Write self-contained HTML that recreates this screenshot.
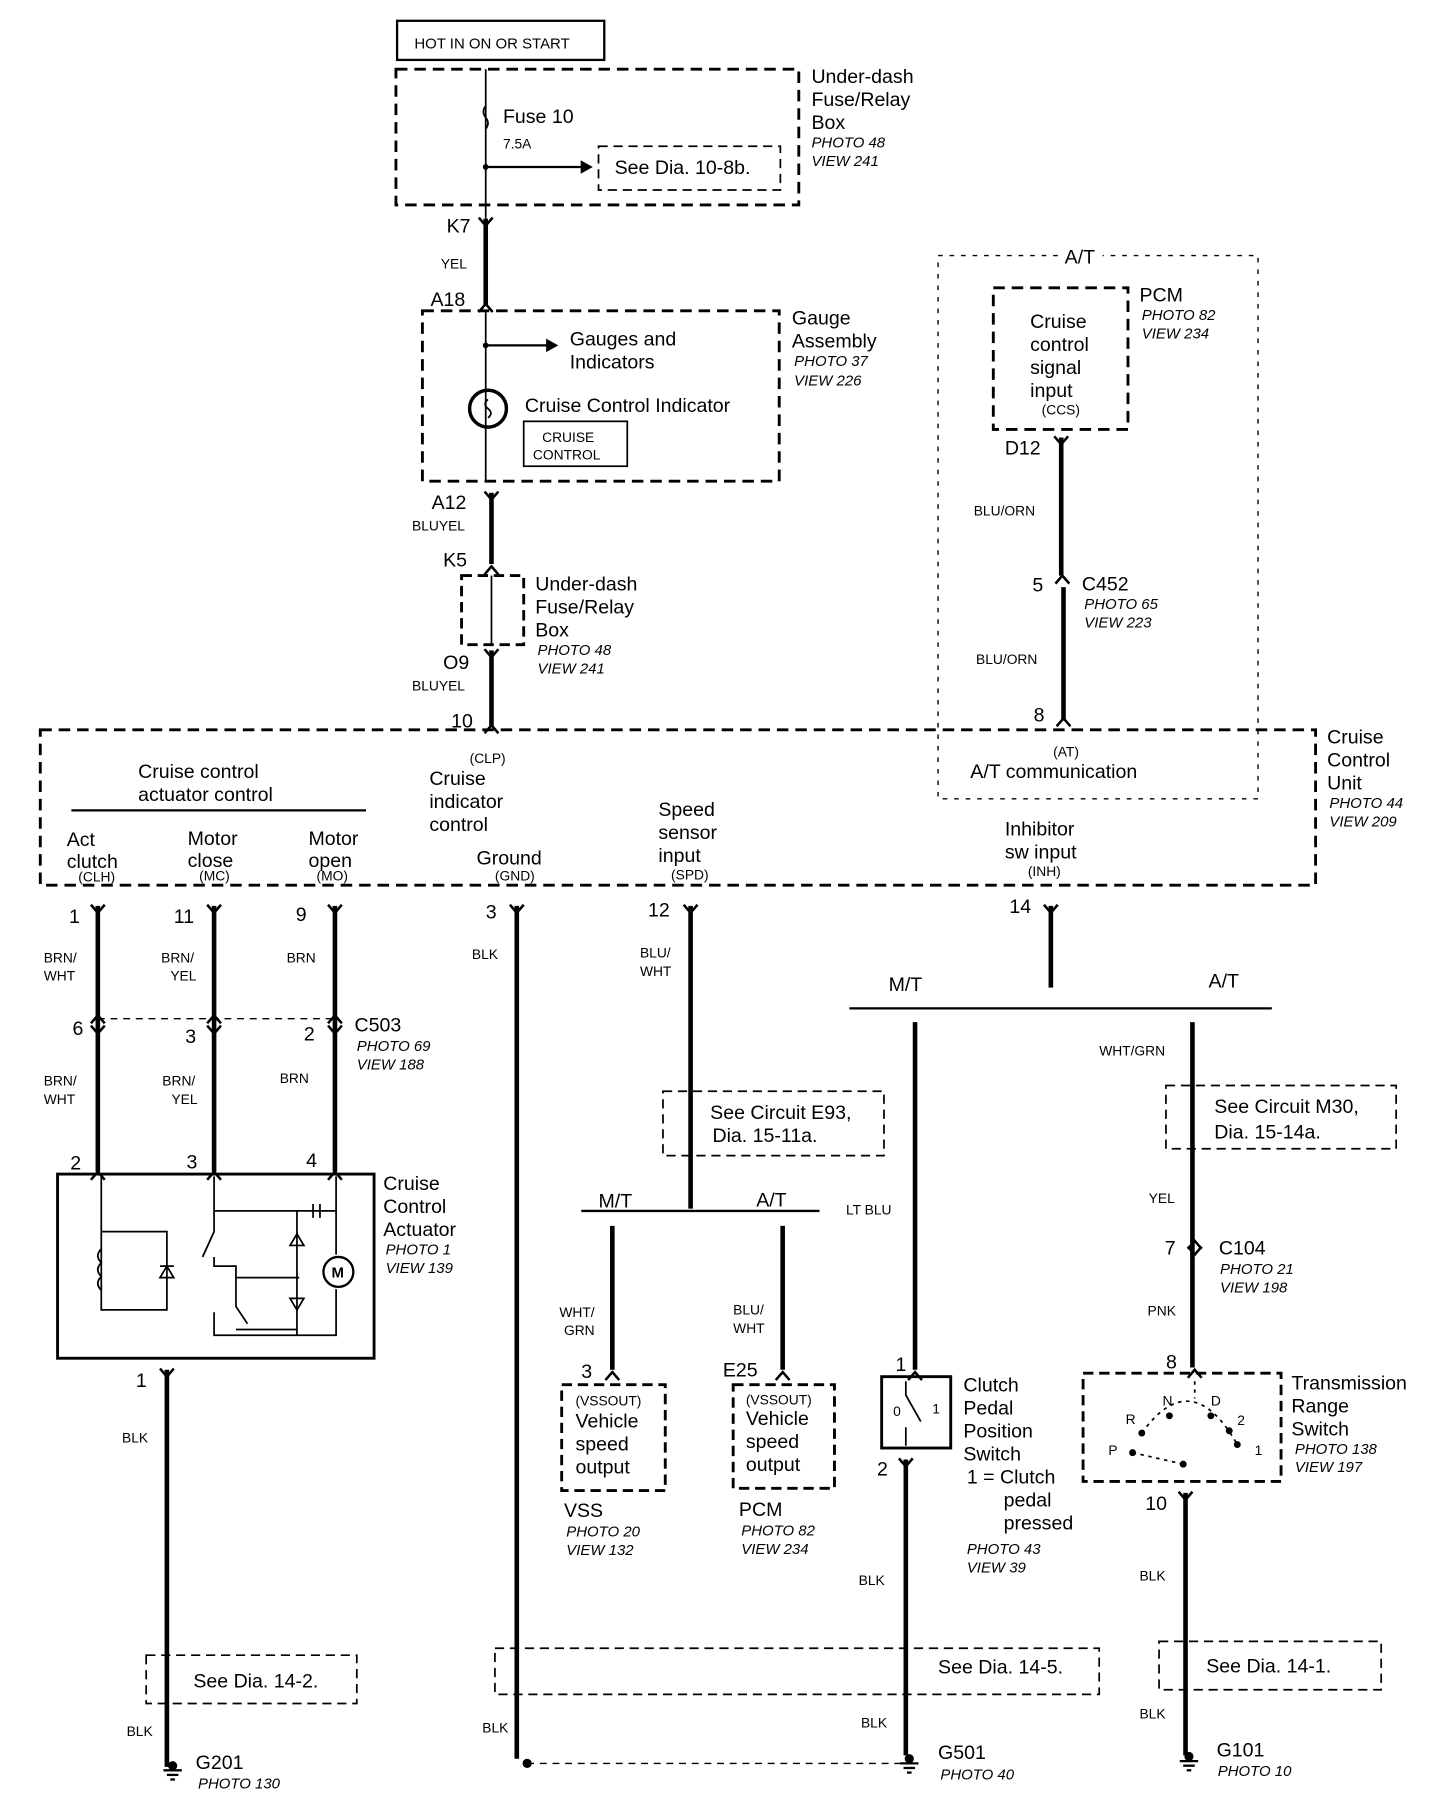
<!DOCTYPE html>
<html><head><meta charset="utf-8"><style>
html,body{margin:0;padding:0;background:#fff}
svg{display:block}
text{font-family:"Liberation Sans",sans-serif;fill:#000}
.t{font-size:17px}
.s{font-size:12px}
.i{font-size:13px;font-style:italic}
</style></head><body>
<svg width="1456" height="1798" viewBox="0 0 1265 1562" xmlns="http://www.w3.org/2000/svg">
<defs>
<path id="v" d="M-6,-7 L0,0 L6,-7" fill="none" stroke="#000" stroke-width="2.2"/>
<path id="a" d="M-6,7 L0,0 L6,7" fill="none" stroke="#000" stroke-width="2.2"/>
<g id="gnd"><line x1="-8" y1="0" x2="8" y2="0" stroke="#000" stroke-width="2"/><line x1="-5" y1="4" x2="5" y2="4" stroke="#000" stroke-width="2"/><line x1="-2" y1="8" x2="2" y2="8" stroke="#000" stroke-width="2"/></g>
</defs>
<g fill="none" stroke="#000">
<rect x="345" y="18" width="180" height="34" stroke-width="2"/>
<rect x="344" y="60" width="350" height="118" stroke-width="2.5" stroke-dasharray="10,6"/>
<line x1="422" y1="60" x2="422" y2="190" stroke-width="1.5"/>
<path d="M422,92 q-4,5 0,10 q4,5 0,10" stroke-width="1.5"/>
<line x1="422" y1="145" x2="505" y2="145" stroke-width="2"/>
<path d="M505,140 L514,145 L505,150 Z" fill="#000"/>
<rect x="520" y="127" width="158" height="38" stroke-width="1.5" stroke-dasharray="8,5"/>
<line x1="422" y1="190" x2="422" y2="265" stroke-width="4"/>
<rect x="367" y="270" width="310" height="148" stroke-width="2.5" stroke-dasharray="10,6"/>
<line x1="422" y1="270" x2="422" y2="418" stroke-width="1.5"/>
<line x1="422" y1="300" x2="475" y2="300" stroke-width="2"/>
<path d="M475,295 L484,300 L475,305 Z" fill="#000"/>
<circle cx="424" cy="355" r="16" stroke-width="3"/>
<path d="M424,347 q-5,4 0,8 q5,4 0,8" stroke-width="1.5"/>
<rect x="455" y="366" width="90" height="39" stroke-width="1.5"/>
<line x1="427" y1="428" x2="427" y2="490" stroke-width="4"/>
<rect x="401" y="500" width="54" height="60" stroke-width="2.5" stroke-dasharray="9,5"/>
<line x1="427" y1="500" x2="427" y2="560" stroke-width="1.5"/>
<line x1="427" y1="565" x2="427" y2="632" stroke-width="4"/>
<rect x="815" y="222" width="278" height="472" stroke-width="1.2" stroke-dasharray="4,6"/>
<rect x="863" y="250" width="117" height="123" stroke-width="2.5" stroke-dasharray="10,6"/>
<line x1="922" y1="380" x2="922" y2="500" stroke-width="4"/>
<line x1="924" y1="510" x2="924" y2="626" stroke-width="4"/>
<rect x="35" y="634" width="1108" height="135" stroke-width="2.5" stroke-dasharray="10,6"/>
<line x1="62" y1="704" x2="318" y2="704" stroke-width="2"/>
<line x1="85" y1="787" x2="85" y2="1018" stroke-width="4"/>
<line x1="186" y1="787" x2="186" y2="1018" stroke-width="4"/>
<line x1="291" y1="787" x2="291" y2="1018" stroke-width="4"/>
<line x1="85" y1="885" x2="291" y2="885" stroke-width="1.2" stroke-dasharray="6,5"/>
<rect x="50" y="1020" width="275" height="160" stroke-width="2.5"/>
<path d="M88,1022 V1138 H145 V1070 H88" stroke-width="1.5"/>
<path d="M88,1085 q-6,6 0,12 q-6,6 0,12 q-6,6 0,12" stroke-width="1.5"/>
<path d="M139,1100 L151,1100 M145,1100 L139,1110 L151,1110 Z" stroke-width="1.5"/>
<path d="M186,1022 V1052 H292 V1022 M292,1052 V1090 M292,1120 V1160 H186 V1140" stroke-width="1.5"/>
<circle cx="294" cy="1105" r="13" stroke-width="2"/>
<path d="M272,1046 V1058 M278,1046 V1058" stroke-width="1.5"/>
<path d="M186,1052 V1070 L176,1092 M186,1092 V1100 H205 V1110 H260 M205,1110 V1135 L215,1150 M205,1155 H258 V1160 M258,1052 V1160" stroke-width="1.5"/>
<path d="M252,1082 L264,1082 L258,1072 Z M252,1128 L264,1128 L258,1138 Z" stroke-width="1.5"/>
<line x1="145" y1="1190" x2="145" y2="1535" stroke-width="4"/>
<rect x="127" y="1438" width="183" height="42" stroke-width="1.5" stroke-dasharray="8,5"/>
<line x1="449" y1="787" x2="449" y2="1528" stroke-width="4"/>
<rect x="430" y="1432" width="525" height="40" stroke-width="1.5" stroke-dasharray="8,5"/>
<line x1="458" y1="1532" x2="790" y2="1532" stroke-width="1.2" stroke-dasharray="6,5"/>
<line x1="600" y1="787" x2="600" y2="1050" stroke-width="4"/>
<rect x="576" y="948" width="192" height="56" stroke-width="1.5" stroke-dasharray="8,5"/>
<line x1="505" y1="1052" x2="712" y2="1052" stroke-width="2"/>
<line x1="532" y1="1065" x2="532" y2="1190" stroke-width="4"/>
<line x1="680" y1="1065" x2="680" y2="1190" stroke-width="4"/>
<rect x="488" y="1203" width="90" height="92" stroke-width="2.5" stroke-dasharray="9,5"/>
<rect x="637" y="1203" width="88" height="90" stroke-width="2.5" stroke-dasharray="9,5"/>
<line x1="913" y1="787" x2="913" y2="858" stroke-width="4"/>
<line x1="738" y1="876" x2="1105" y2="876" stroke-width="2"/>
<line x1="795" y1="888" x2="795" y2="1190" stroke-width="4"/>
<rect x="766" y="1196" width="60" height="62" stroke-width="2.5"/>
<path d="M787,1200 V1212 L800,1235 M787,1240 V1256" stroke-width="1.5"/>
<line x1="787" y1="1268" x2="787" y2="1525" stroke-width="4"/>
<line x1="1036" y1="888" x2="1036" y2="1188" stroke-width="4"/>
<rect x="1013" y="943" width="200" height="55" stroke-width="1.5" stroke-dasharray="8,5"/>
<rect x="941" y="1193" width="172" height="94" stroke-width="2.5" stroke-dasharray="9,5"/>
<path d="M984,1262 L1028,1272 M1038,1200 V1215 M992,1245 Q1035,1185 1075,1255" stroke-width="1.5" stroke-dasharray="3,4"/>
<line x1="1030" y1="1297" x2="1030" y2="1525" stroke-width="4"/>
<rect x="1007" y="1426" width="193" height="42" stroke-width="1.5" stroke-dasharray="8,5"/>
</g>
<rect x="920" y="214" width="38" height="16" fill="#fff"/>
<circle cx="458" cy="1532" r="4"/>
<circle cx="422" cy="145" r="2.5"/><circle cx="422" cy="300" r="2.5"/>
<circle cx="984" cy="1262" r="3"/><circle cx="992" cy="1245" r="3"/><circle cx="1016" cy="1230" r="3"/><circle cx="1052" cy="1230" r="3"/><circle cx="1068" cy="1243" r="3"/><circle cx="1075" cy="1255" r="3"/><circle cx="1028" cy="1272" r="3"/>
<use href="#v" x="422" y="196"/><use href="#a" x="422" y="264"/>
<use href="#v" x="427" y="434"/><use href="#a" x="427" y="492"/>
<use href="#v" x="427" y="571"/><use href="#a" x="427" y="630"/>
<use href="#v" x="922" y="386"/><use href="#a" x="923" y="500"/><use href="#a" x="924" y="624"/>
<use href="#v" x="85" y="793"/><use href="#v" x="186" y="793"/><use href="#v" x="291" y="793"/>
<use href="#v" x="449" y="793"/><use href="#v" x="600" y="793"/><use href="#v" x="913" y="793"/>
<use href="#a" x="85" y="882"/><use href="#a" x="186" y="882"/><use href="#a" x="291" y="882"/>
<use href="#v" x="85" y="898"/><use href="#v" x="186" y="898"/><use href="#v" x="291" y="898"/>
<use href="#a" x="85" y="1018"/><use href="#a" x="186" y="1018"/><use href="#a" x="291" y="1018"/>
<use href="#v" x="145" y="1196"/><use href="#a" x="532" y="1192"/><use href="#a" x="680" y="1192"/>
<use href="#a" x="795" y="1192"/><use href="#v" x="787" y="1274"/>
<use href="#a" x="1038" y="1078"/><use href="#v" x="1038" y="1090"/><use href="#a" x="1038" y="1190"/><use href="#v" x="1030" y="1303"/>
<use href="#gnd" x="150" y="1538"/><use href="#gnd" x="790" y="1532"/><use href="#gnd" x="1033" y="1530"/>
<circle cx="150" cy="1534" r="4"/><circle cx="790" cy="1528" r="4"/><circle cx="1033" cy="1526" r="4"/>
<text x="360" y="42" style="font-size:13px">HOT IN ON OR START</text>
<text x="437" y="107" class="t">Fuse 10</text><text x="437" y="129" class="s">7.5A</text>
<text x="534" y="151" class="t">See Dia. 10-8b.</text>
<text x="705" y="72" class="t">Under-dash</text><text x="705" y="92" class="t">Fuse/Relay</text><text x="705" y="112" class="t">Box</text>
<text x="705" y="128" class="i">PHOTO 48</text><text x="705" y="144" class="i">VIEW 241</text>
<text x="388" y="202" class="t">K7</text><text x="383" y="233" class="s">YEL</text><text x="374" y="266" class="t">A18</text>
<text x="495" y="300" class="t">Gauges and</text><text x="495" y="320" class="t">Indicators</text>
<text x="456" y="358" class="t">Cruise Control Indicator</text>
<text x="471" y="384" class="s">CRUISE</text><text x="463" y="399" class="s">CONTROL</text>
<text x="688" y="282" class="t">Gauge</text><text x="688" y="302" class="t">Assembly</text><text x="690" y="318" class="i">PHOTO 37</text><text x="690" y="335" class="i">VIEW 226</text>
<text x="375" y="442" class="t">A12</text><text x="358" y="461" class="s">BLUYEL</text><text x="385" y="492" class="t">K5</text>
<text x="465" y="513" class="t">Under-dash</text><text x="465" y="533" class="t">Fuse/Relay</text><text x="465" y="553" class="t">Box</text>
<text x="467" y="569" class="i">PHOTO 48</text><text x="467" y="585" class="i">VIEW 241</text>
<text x="385" y="581" class="t">O9</text><text x="358" y="600" class="s">BLUYEL</text><text x="392" y="632" class="t">10</text>
<text x="925" y="229" class="t">A/T</text>
<text x="895" y="285" class="t">Cruise</text><text x="895" y="305" class="t">control</text><text x="895" y="325" class="t">signal</text><text x="895" y="345" class="t">input</text><text x="905" y="360" class="s">(CCS)</text>
<text x="990" y="262" class="t">PCM</text><text x="992" y="278" class="i">PHOTO 82</text><text x="992" y="294" class="i">VIEW 234</text>
<text x="873" y="395" class="t">D12</text><text x="846" y="448" class="s">BLU/ORN</text>
<text x="897" y="514" class="t">5</text><text x="940" y="513" class="t">C452</text><text x="942" y="529" class="i">PHOTO 65</text><text x="942" y="545" class="i">VIEW 223</text>
<text x="848" y="577" class="s">BLU/ORN</text><text x="898" y="627" class="t">8</text>
<text x="1153" y="646" class="t">Cruise</text><text x="1153" y="666" class="t">Control</text><text x="1153" y="686" class="t">Unit</text><text x="1155" y="702" class="i">PHOTO 44</text><text x="1155" y="718" class="i">VIEW 209</text>
<text x="408" y="663" class="s">(CLP)</text><text x="373" y="682" class="t">Cruise</text><text x="373" y="702" class="t">indicator</text><text x="373" y="722" class="t">control</text>
<text x="915" y="657" class="s">(AT)</text><text x="843" y="676" class="t">A/T communication</text>
<text x="120" y="676" class="t">Cruise control</text><text x="120" y="696" class="t">actuator control</text>
<text x="58" y="735" class="t">Act</text><text x="58" y="754" class="t">clutch</text><text x="68" y="766" class="s">(CLH)</text>
<text x="163" y="734" class="t">Motor</text><text x="163" y="753" class="t">close</text><text x="173" y="765" class="s">(MC)</text>
<text x="268" y="734" class="t">Motor</text><text x="268" y="753" class="t">open</text><text x="275" y="765" class="s">(MO)</text>
<text x="414" y="751" class="t">Ground</text><text x="430" y="765" class="s">(GND)</text>
<text x="572" y="709" class="t">Speed</text><text x="572" y="729" class="t">sensor</text><text x="572" y="749" class="t">input</text><text x="583" y="764" class="s">(SPD)</text>
<text x="873" y="726" class="t">Inhibitor</text><text x="873" y="746" class="t">sw input</text><text x="893" y="761" class="s">(INH)</text>
<text x="60" y="802" class="t">1</text><text x="151" y="802" class="t">11</text><text x="257" y="800" class="t">9</text><text x="422" y="798" class="t">3</text><text x="563" y="796" class="t">12</text><text x="877" y="793" class="t">14</text>
<text x="38" y="836" class="s">BRN/</text><text x="38" y="852" class="s">WHT</text><text x="140" y="836" class="s">BRN/</text><text x="148" y="852" class="s">YEL</text><text x="249" y="836" class="s">BRN</text>
<text x="410" y="833" class="s">BLK</text><text x="556" y="832" class="s">BLU/</text><text x="556" y="848" class="s">WHT</text>
<text x="63" y="899" class="t">6</text><text x="161" y="906" class="t">3</text><text x="264" y="904" class="t">2</text>
<text x="308" y="896" class="t">C503</text><text x="310" y="913" class="i">PHOTO 69</text><text x="310" y="929" class="i">VIEW 188</text>
<text x="38" y="943" class="s">BRN/</text><text x="38" y="959" class="s">WHT</text><text x="141" y="943" class="s">BRN/</text><text x="149" y="959" class="s">YEL</text><text x="243" y="941" class="s">BRN</text>
<text x="61" y="1016" class="t">2</text><text x="162" y="1015" class="t">3</text><text x="266" y="1014" class="t">4</text>
<text x="288" y="1110" style="font-size:13px;font-weight:bold">M</text>
<text x="333" y="1034" class="t">Cruise</text><text x="333" y="1054" class="t">Control</text><text x="333" y="1074" class="t">Actuator</text><text x="335" y="1090" class="i">PHOTO 1</text><text x="335" y="1106" class="i">VIEW 139</text>
<text x="118" y="1205" class="t">1</text><text x="106" y="1253" class="s">BLK</text>
<text x="168" y="1466" class="t">See Dia. 14-2.</text><text x="110" y="1508" class="s">BLK</text>
<text x="170" y="1537" class="t">G201</text><text x="172" y="1554" class="i">PHOTO 130</text>
<text x="617" y="972" class="t">See Circuit E93,</text><text x="619" y="992" class="t">Dia. 15-11a.</text>
<text x="520" y="1049" class="t">M/T</text><text x="657" y="1048" class="t">A/T</text>
<text x="486" y="1144" class="s">WHT/</text><text x="490" y="1160" class="s">GRN</text><text x="637" y="1142" class="s">BLU/</text><text x="637" y="1158" class="s">WHT</text>
<text x="505" y="1197" class="t">3</text><text x="628" y="1196" class="t">E25</text>
<text x="500" y="1221" class="s">(VSSOUT)</text><text x="500" y="1240" class="t">Vehicle</text><text x="500" y="1260" class="t">speed</text><text x="500" y="1280" class="t">output</text>
<text x="648" y="1220" class="s">(VSSOUT)</text><text x="648" y="1238" class="t">Vehicle</text><text x="648" y="1258" class="t">speed</text><text x="648" y="1278" class="t">output</text>
<text x="490" y="1318" class="t">VSS</text><text x="492" y="1335" class="i">PHOTO 20</text><text x="492" y="1351" class="i">VIEW 132</text>
<text x="642" y="1317" class="t">PCM</text><text x="644" y="1334" class="i">PHOTO 82</text><text x="644" y="1350" class="i">VIEW 234</text>
<text x="815" y="1454" class="t">See Dia. 14-5.</text><text x="419" y="1505" class="s">BLK</text><text x="748" y="1501" class="s">BLK</text>
<text x="772" y="861" class="t">M/T</text><text x="1050" y="858" class="t">A/T</text>
<text x="735" y="1055" class="s">LT BLU</text><text x="778" y="1191" class="t">1</text>
<text x="776" y="1230" class="s">0</text><text x="810" y="1228" class="s">1</text>
<text x="837" y="1209" class="t">Clutch</text><text x="837" y="1229" class="t">Pedal</text><text x="837" y="1249" class="t">Position</text><text x="837" y="1269" class="t">Switch</text>
<text x="840" y="1289" class="t">1 = Clutch</text><text x="872" y="1309" class="t">pedal</text><text x="872" y="1329" class="t">pressed</text>
<text x="840" y="1350" class="i">PHOTO 43</text><text x="840" y="1366" class="i">VIEW 39</text>
<text x="762" y="1282" class="t">2</text><text x="746" y="1377" class="s">BLK</text>
<text x="815" y="1528" class="t">G501</text><text x="817" y="1546" class="i">PHOTO 40</text>
<text x="955" y="917" class="s">WHT/GRN</text>
<text x="1055" y="967" class="t">See Circuit M30,</text><text x="1055" y="989" class="t">Dia. 15-14a.</text>
<text x="998" y="1045" class="s">YEL</text><text x="1012" y="1090" class="t">7</text>
<text x="1059" y="1090" class="t">C104</text><text x="1060" y="1107" class="i">PHOTO 21</text><text x="1060" y="1123" class="i">VIEW 198</text>
<text x="997" y="1143" class="s">PNK</text><text x="1013" y="1189" class="t">8</text>
<text x="1122" y="1207" class="t">Transmission</text><text x="1122" y="1227" class="t">Range</text><text x="1122" y="1247" class="t">Switch</text><text x="1125" y="1263" class="i">PHOTO 138</text><text x="1125" y="1279" class="i">VIEW 197</text>
<text x="978" y="1237" class="s">R</text><text x="1010" y="1221" class="s">N</text><text x="1052" y="1221" class="s">D</text><text x="1075" y="1238" class="s">2</text><text x="1090" y="1264" class="s">1</text><text x="963" y="1264" class="s">P</text>
<text x="995" y="1312" class="t">10</text><text x="990" y="1373" class="s">BLK</text>
<text x="1048" y="1453" class="t">See Dia. 14-1.</text><text x="990" y="1493" class="s">BLK</text>
<text x="1057" y="1526" class="t">G101</text><text x="1058" y="1543" class="i">PHOTO 10</text>
</svg>
</body></html>
